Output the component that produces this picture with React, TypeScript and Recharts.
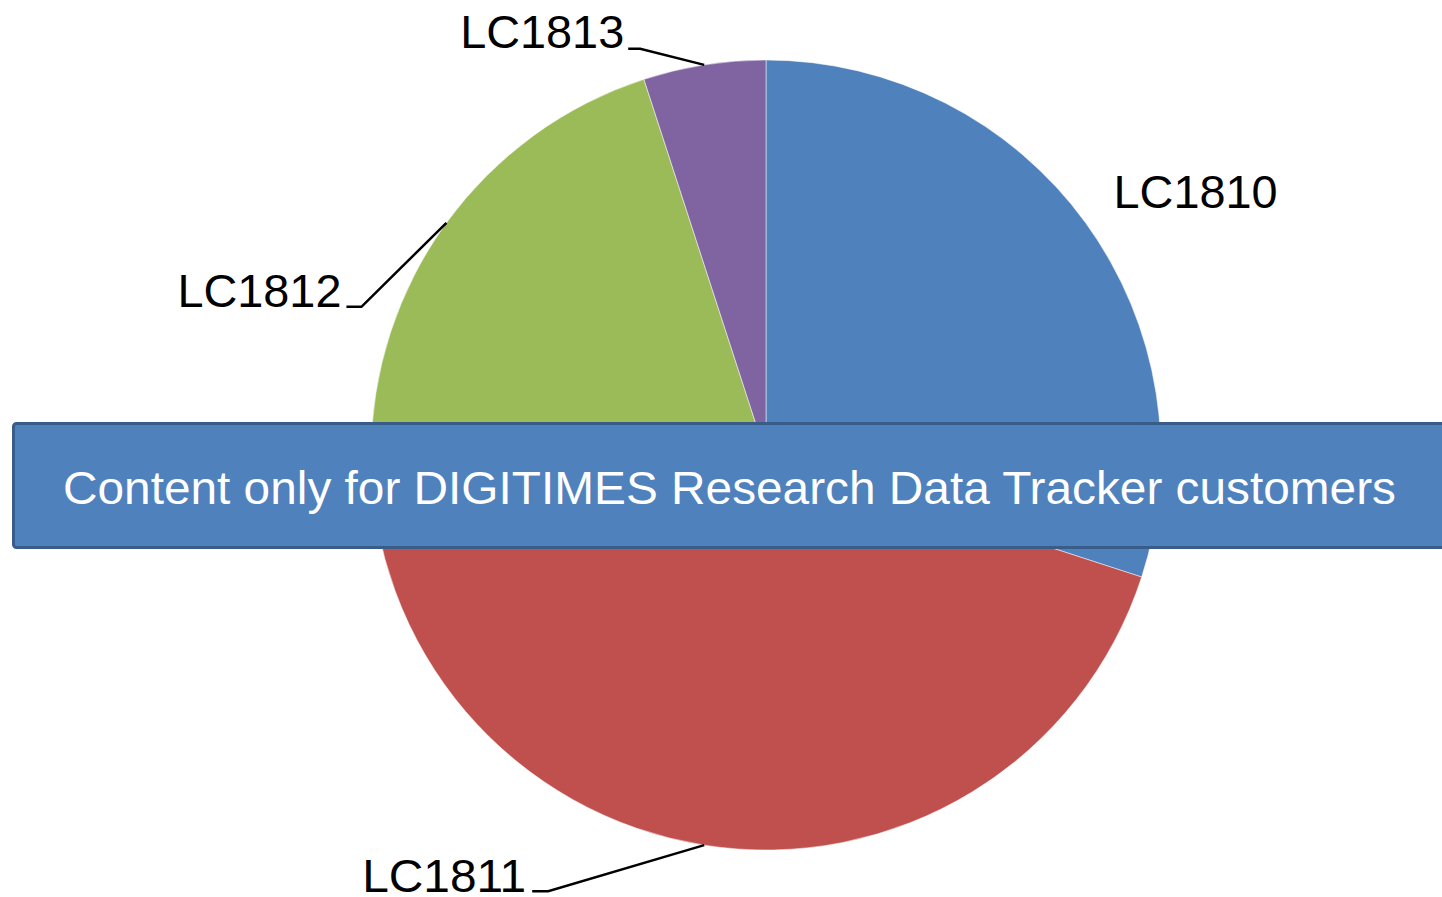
import { PieChart, Pie, Cell } from "recharts";

document.body.style.margin = "0";

const categories = ["LC1810", "LC1811", "LC1812", "LC1813"];
const shares = [30, 45, 20, 5];
const colors = ["#4F81BD", "#C0504D", "#9BBB59", "#8064A2"];

const data = categories.map((name, i) => ({ name, value: shares[i] }));

// label placement relative to the slice's outer edge point (line elbow, line end, text anchor)
const placements = [
    { line: null, text: [110, -15], anchor: "middle" },
    { line: [[-156, 46], [-172, 46]], text: [-178, 47], anchor: "end" },
    { line: [[-85, 84], [-100, 84]], text: [-105, 84], anchor: "end" },
    { line: [[-64, -16], [-76, -16]], text: [-80, -17], anchor: "end" },
];

const RAD = Math.PI / 180;

const renderLabel = (props: any) => {
    const { cx, cy, midAngle, outerRadius, index, name } = props;
    const ex = cx + outerRadius * Math.cos(-midAngle * RAD);
    const ey = cy + outerRadius * Math.sin(-midAngle * RAD);
    const p = placements[index];
    return (
        <g>
            {p.line && (
                <polyline
                    points={`${ex},${ey} ${ex + p.line[0][0]},${ey + p.line[0][1]} ${ex + p.line[1][0]},${ey + p.line[1][1]}`}
                    fill="none"
                    stroke="#000"
                    strokeWidth={2.5}
                />
            )}
            <text
                x={ex + p.text[0]}
                y={ey + p.text[1]}
                textAnchor={p.anchor as any}
                fontSize={46}
                fill="#000"
                textLength={164}
                lengthAdjust="spacingAndGlyphs"
            >
                {name}
            </text>
        </g>
    );
};

export default function App() {
    return (
        <div
            style={{
                position: "relative",
                width: 1442,
                height: 897,
                background: "#fff",
                fontFamily: "'Liberation Sans', Arial, sans-serif",
                overflow: "hidden",
            }}
        >
            <PieChart width={1442} height={897} margin={{ top: 0, right: 0, bottom: 0, left: 0 }}>
                <Pie
                    data={data}
                    dataKey="value"
                    nameKey="name"
                    cx={766}
                    cy={455}
                    outerRadius={395}
                    startAngle={90}
                    endAngle={-270}
                    stroke="#ffffff"
                    strokeWidth={0.5}
                    label={renderLabel}
                    labelLine={false}
                    isAnimationActive={false}
                >
                    {data.map((d, i) => (
                        <Cell key={d.name} fill={colors[i]} />
                    ))}
                </Pie>
            </PieChart>

            {/* overlay banner */}
            <svg
                width={1442}
                height={897}
                style={{ position: "absolute", left: 0, top: 0, pointerEvents: "none" }}
            >
                <rect
                    x={13.5}
                    y={423.5}
                    width={1460}
                    height={124}
                    rx={3}
                    fill="#4F81BD"
                    stroke="#385D8A"
                    strokeWidth={3}
                />
                <text
                    x={63}
                    y={504}
                    fontSize={47}
                    fill="#ffffff"
                    textLength={1333}
                    lengthAdjust="spacingAndGlyphs"
                >
                    Content only for DIGITIMES Research Data Tracker customers
                </text>
            </svg>
        </div>
    );
}
